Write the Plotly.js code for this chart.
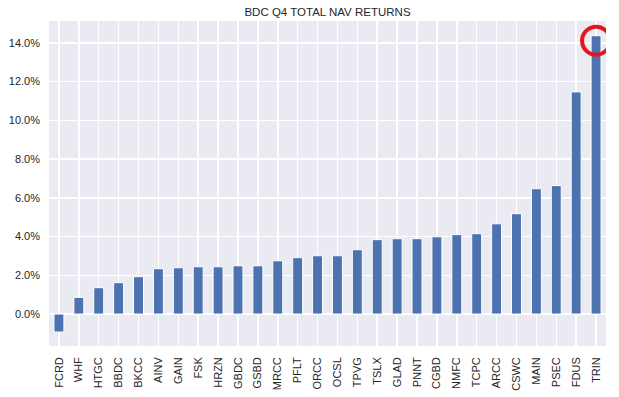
<!DOCTYPE html>
<html>
<head>
<meta charset="utf-8">
<script src="https://cdn.plot.ly/plotly-3.0.1.min.js"></script>
<style>html,body{margin:0;padding:0;background:#fff;}#chart{width:619px;height:397px;}</style>
</head>
<body>
<div id="chart"></div>
<script>
const tickers = ["FCRD","WHF","HTGC","BBDC","BKCC","AINV","GAIN","FSK","HRZN","GBDC","GSBD","MRCC","PFLT","ORCC","OCSL","TPVG","TSLX","GLAD","PNNT","CGBD","NMFC","TCPC","ARCC","CSWC","MAIN","PSEC","FDUS","TRIN"];
const navReturns = [-0.93,0.86,1.36,1.62,1.93,2.34,2.39,2.44,2.44,2.49,2.49,2.75,2.91,3.01,3.01,3.32,3.84,3.89,3.89,3.99,4.10,4.15,4.66,5.18,6.47,6.63,11.47,14.37];
const highlighted = "TRIN";
const yTicks = [0,2,4,6,8,10,12,14];

const hiVal = navReturns[tickers.indexOf(highlighted)];

const font = {family: "Liberation Sans, Arial, sans-serif", size: 11, color: "#262626"};

Plotly.newPlot("chart", [{
  type: "bar",
  x: tickers,
  y: navReturns,
  width: 0.5,
  marker: {color: "#4C72B0", line: {color: "#ffffff", width: 1}},
  hoverinfo: "x+y"
}], {
  width: 619, height: 397,
  margin: {l: 49, r: 13, t: 21, b: 51},
  paper_bgcolor: "#ffffff",
  plot_bgcolor: "#EAEAF2",
  font: font,
  showlegend: false,
  title: {text: "BDC Q4 TOTAL NAV RETURNS", font: {family: font.family, size: 11.5, color: "#262626"},
          x: 0.5, xref: "paper", xanchor: "center", y: 1 - 12/397, yref: "container", yanchor: "middle"},
  xaxis: {
    type: "category", range: [-0.5, tickers.length - 0.5],
    tickangle: -90, showgrid: true, gridcolor: "#ffffff", gridwidth: 1.5,
    zeroline: false, showline: false, ticks: "", ticklabelstandoff: 8,
    tickfont: font
  },
  yaxis: {
    range: [-1.65, 15.13], tickvals: yTicks, ticktext: yTicks.map(v => v.toFixed(1) + "%"),
    showgrid: true, gridcolor: "#ffffff", gridwidth: 1.5,
    zeroline: false, showline: false, ticks: "", ticklabelstandoff: 8,
    tickfont: font
  },
  shapes: [{
    type: "circle", xref: "x", yref: "y",
    xsizemode: "pixel", ysizemode: "pixel",
    xanchor: highlighted, yanchor: hiVal,
    x0: -14, x1: 14, y0: -19, y1: 9,
    line: {color: "#E8141B", width: 4}
  }]
}, {displayModeBar: false, staticPlot: true});
</script>
</body>
</html>
